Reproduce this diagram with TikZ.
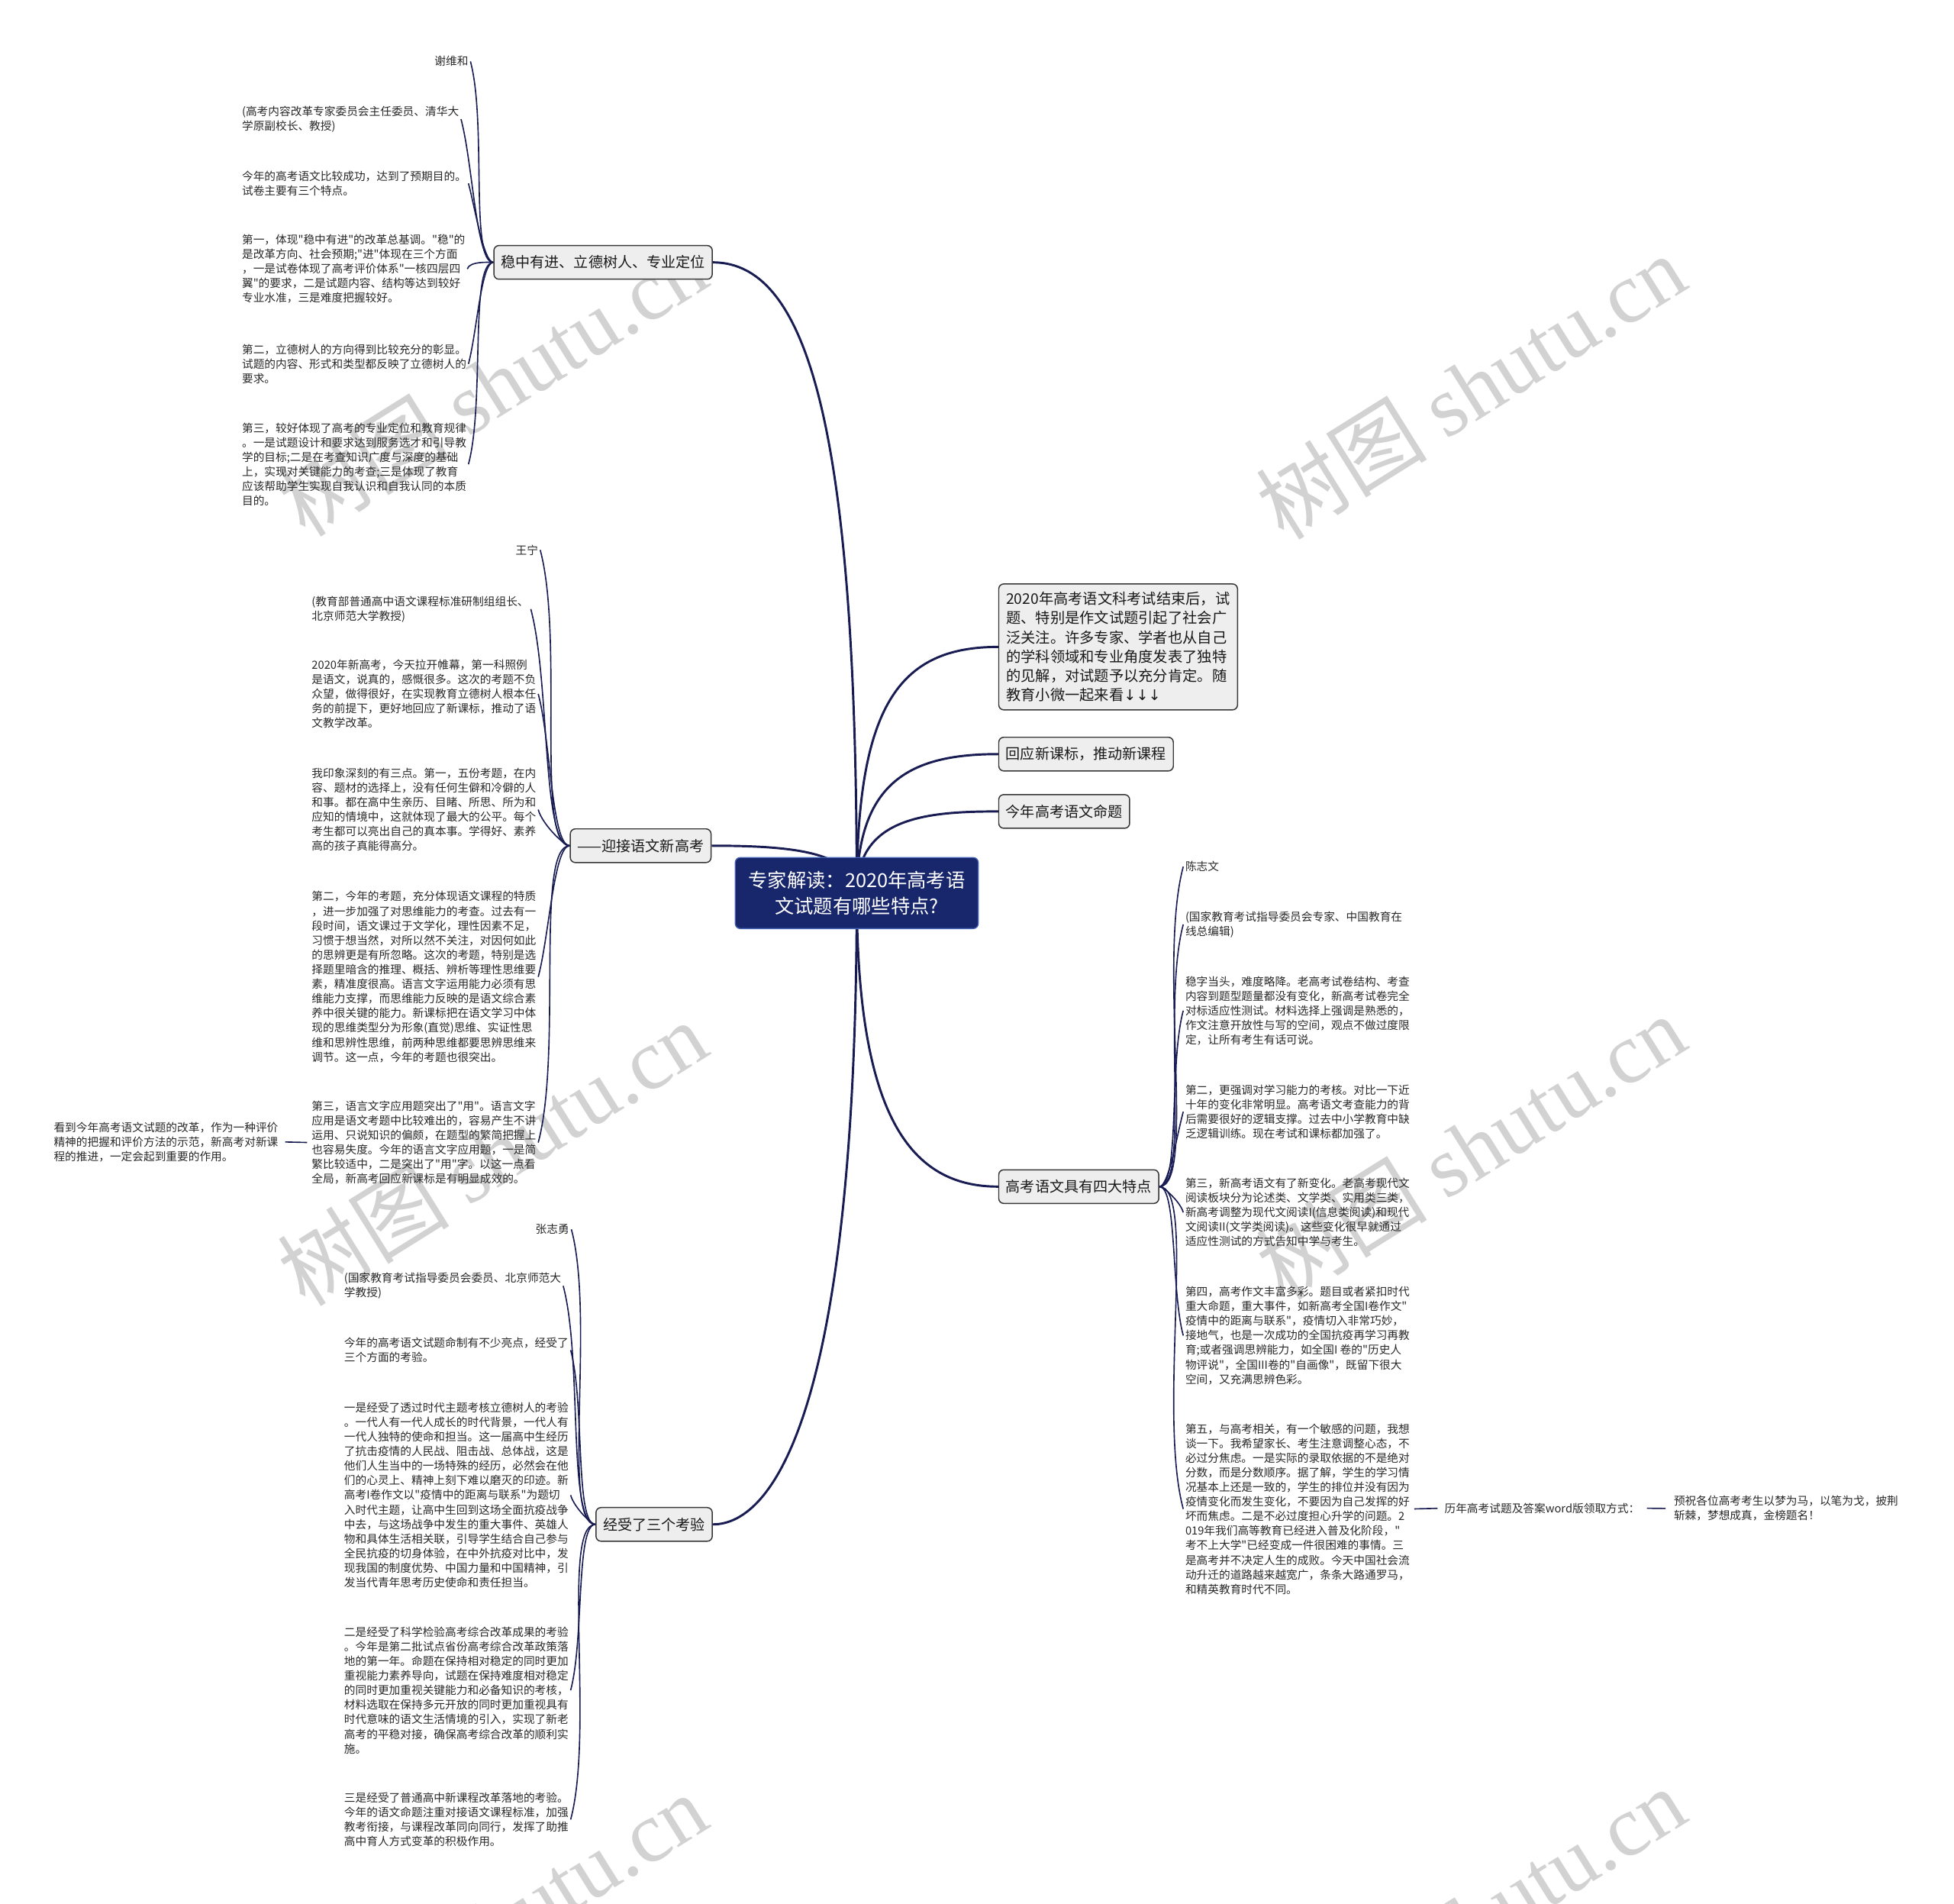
\documentclass[tikz,border=0pt]{standalone}
\usepackage{fontspec}
\newfontfamily\cjk{Noto Sans CJK SC}
\newfontfamily\wmf{Liberation Serif}
\newfontfamily\djv{DejaVu Sans}
\usetikzlibrary{calc}
\pgfdeclarelayer{wmlayer}
\pgfdeclarelayer{bglayer}
\pgfsetlayers{wmlayer,bglayer,main}
\definecolor{navy}{RGB}{24,28,82}
\definecolor{cfill}{RGB}{24,38,108}
\definecolor{cedge}{RGB}{70,100,180}
\definecolor{boxfill}{RGB}{238,238,238}
\definecolor{boxedge}{RGB}{55,55,55}
\definecolor{wmcol}{RGB}{210,210,210}
\definecolor{txt}{RGB}{40,40,40}
\tikzset{
  every node/.style={font=\cjk},
  leaf/.style={font=\cjk\fontsize{9pt}{11.7pt}\selectfont, align=left, inner sep=1.5pt, text=txt},
  topic/.style={draw=boxedge, fill=boxfill, rounded corners=4pt, line width=0.9pt,
     font=\cjk\fontsize{11.7pt}{15.4pt}\selectfont, inner xsep=5.7pt, inner ysep=0pt,
     minimum height=27pt, align=left, text=black!90},
  bigtopic/.style={topic, font=\cjk\fontsize{11.8pt}{15.4pt}\selectfont, inner xsep=6pt, inner ysep=6.5pt},
  root/.style={draw=cedge, fill=cfill, rounded corners=4pt, line width=0.8pt, text=white,
     font=\cjk\fontsize{15.5pt}{21pt}\selectfont, align=center, minimum width=195pt, minimum height=57pt, inner sep=0pt},
  mainln/.style={draw=navy, line width=1.8pt},
  subln/.style={draw=navy, line width=1pt},
  lu/.style={out=180, in=-75, out looseness=0.3, in looseness=0.8},
  ld/.style={out=180, in=75, out looseness=0.3, in looseness=0.8},
  ru/.style={out=0, in=-105, out looseness=0.3, in looseness=0.8},
  rd/.style={out=0, in=105, out looseness=0.3, in looseness=0.8},
  wmk/.style={text=wmcol, font=\cjk\fontsize{69pt}{72pt}\selectfont, rotate=32, inner sep=0pt}
}
\begin{document}
\begin{tikzpicture}[x=1pt, y=-1pt]
\useasboundingbox (0,0) rectangle (1568,1527);

% watermarks
\begin{pgfonlayer}{wmlayer}
\foreach \wx/\wy/\nm in {395/308/wa, 1180/310/wb, 395/925/wc, 1180/920/wd, 395/1545/we, 1180/1540/wf}
  \node[wmk] (\nm) at (\wx,\wy) {树图 {\wmf shutu.cn}};
\end{pgfonlayer}

% root and topics
\node[root] (c) at (687.5,716.5) {专家解读：2020年高考语\\文试题有哪些特点?};
\node[topic, anchor=east] (s1) at (572,210.5) {稳中有进、立德树人、专业定位};
\node[topic, anchor=east] (m0) at (571,678.5) {——迎接语文新高考};
\node[topic, anchor=east] (b0) at (572,1223) {经受了三个考验};
\node[bigtopic, anchor=west] (n1) at (801,519) {2020年高考语文科考试结束后，试\\题、特别是作文试题引起了社会广\\泛关注。许多专家、学者也从自己\\的学科领域和专业角度发表了独特\\的见解，对试题予以充分肯定。随\\教育小微一起来看{\djv ↓↓↓}};
\node[topic, anchor=west] (n2) at (801,605) {回应新课标，推动新课程};
\node[topic, anchor=west] (n3) at (801,651) {今年高考语文命题};
\node[topic, anchor=west] (r0) at (801,952) {高考语文具有四大特点};

% top-left leaves
\node[leaf, anchor=north east] (t1) at (377.5,43.4) {谢维和};
\node[leaf, anchor=north west] (t2) at (192.5,83.4) {(高考内容改革专家委员会主任委员、清华大\\学原副校长、教授)};
\node[leaf, anchor=north west] (t3) at (192.5,135.4) {今年的高考语文比较成功，达到了预期目的。\\试卷主要有三个特点。};
\node[leaf, anchor=north west] (t4) at (192.5,186.4) {第一，体现"稳中有进"的改革总基调。"稳"的\\是改革方向、社会预期;"进"体现在三个方面\\，一是试卷体现了高考评价体系"一核四层四\\翼"的要求，二是试题内容、结构等达到较好\\专业水准，三是难度把握较好。};
\node[leaf, anchor=north west] (t5) at (192.5,274.4) {第二，立德树人的方向得到比较充分的彰显。\\试题的内容、形式和类型都反映了立德树人的\\要求。};
\node[leaf, anchor=north west] (t6) at (192.5,337.4) {第三，较好体现了高考的专业定位和教育规律\\。一是试题设计和要求达到服务选才和引导教\\学的目标;二是在考查知识广度与深度的基础\\上，实现对关键能力的考查;三是体现了教育\\应该帮助学生实现自我认识和自我认同的本质\\目的。};

% middle-left leaves
\node[leaf, anchor=north east] (m1) at (433.5,435.4) {王宁};
\node[leaf, anchor=north west] (m2) at (248.5,476.4) {(教育部普通高中语文课程标准研制组组长、\\北京师范大学教授)};
\node[leaf, anchor=north west] (m3) at (248.5,527.4) {2020年新高考，今天拉开帷幕，第一科照例\\是语文，说真的，感慨很多。这次的考题不负\\众望，做得很好，在实现教育立德树人根本任\\务的前提下，更好地回应了新课标，推动了语\\文教学改革。};
\node[leaf, anchor=north west] (m4) at (248.5,614.4) {我印象深刻的有三点。第一，五份考题，在内\\容、题材的选择上，没有任何生僻和冷僻的人\\和事。都在高中生亲历、目睹、所思、所为和\\应知的情境中，这就体现了最大的公平。每个\\考生都可以亮出自己的真本事。学得好、素养\\高的孩子真能得高分。};
\node[leaf, anchor=north west] (m5) at (248.5,713.4) {第二，今年的考题，充分体现语文课程的特质\\，进一步加强了对思维能力的考查。过去有一\\段时间，语文课过于文学化，理性因素不足，\\习惯于想当然，对所以然不关注，对因何如此\\的思辨更是有所忽略。这次的考题，特别是选\\择题里暗含的推理、概括、辨析等理性思维要\\素，精准度很高。语言文字运用能力必须有思\\维能力支撑，而思维能力反映的是语文综合素\\养中很关键的能力。新课标把在语文学习中体\\现的思维类型分为形象(直觉)思维、实证性思\\维和思辨性思维，前两种思维都要思辨思维来\\调节。这一点，今年的考题也很突出。};
\node[leaf, anchor=north west] (m6) at (248.5,881.4) {第三，语言文字应用题突出了"用"。语言文字\\应用是语文考题中比较难出的，容易产生不讲\\运用、只说知识的偏颇，在题型的繁简把握上\\也容易失度。今年的语言文字应用题，一是简\\繁比较适中，二是突出了"用"字。以这一点看\\全局，新高考回应新课标是有明显成效的。};
\node[leaf, anchor=north west] (m7) at (41.5,898.4) {看到今年高考语文试题的改革，作为一种评价\\精神的把握和评价方法的示范，新高考对新课\\程的推进，一定会起到重要的作用。};

% bottom-left leaves
\node[leaf, anchor=north east] (b1) at (458.5,980.4) {张志勇};
\node[leaf, anchor=north west] (b2) at (274.5,1019.4) {(国家教育考试指导委员会委员、北京师范大\\学教授)};
\node[leaf, anchor=north west] (b3) at (274.5,1071.4) {今年的高考语文试题命制有不少亮点，经受了\\三个方面的考验。};
\node[leaf, anchor=north west] (b4) at (274.5,1123.4) {一是经受了透过时代主题考核立德树人的考验\\。一代人有一代人成长的时代背景，一代人有\\一代人独特的使命和担当。这一届高中生经历\\了抗击疫情的人民战、阻击战、总体战，这是\\他们人生当中的一场特殊的经历，必然会在他\\们的心灵上、精神上刻下难以磨灭的印迹。新\\高考I卷作文以"疫情中的距离与联系"为题切\\入时代主题，让高中生回到这场全面抗疫战争\\中去，与这场战争中发生的重大事件、英雄人\\物和具体生活相关联，引导学生结合自己参与\\全民抗疫的切身体验，在中外抗疫对比中，发\\现我国的制度优势、中国力量和中国精神，引\\发当代青年思考历史使命和责任担当。};
\node[leaf, anchor=north west] (b5) at (274.5,1303.4) {二是经受了科学检验高考综合改革成果的考验\\。今年是第二批试点省份高考综合改革政策落\\地的第一年。命题在保持相对稳定的同时更加\\重视能力素养导向，试题在保持难度相对稳定\\的同时更加重视关键能力和必备知识的考核，\\材料选取在保持多元开放的同时更加重视具有\\时代意味的语文生活情境的引入，实现了新老\\高考的平稳对接，确保高考综合改革的顺利实\\施。};
\node[leaf, anchor=north west] (b6) at (274.5,1436.4) {三是经受了普通高中新课程改革落地的考验。\\今年的语文命题注重对接语文课程标准，加强\\教考衔接，与课程改革同向同行，发挥了助推\\高中育人方式变革的积极作用。};

% right leaves
\node[leaf, anchor=north west] (r1) at (949.5,689.4) {陈志文};
\node[leaf, anchor=north west] (r2) at (949.5,729.4) {(国家教育考试指导委员会专家、中国教育在\\线总编辑)};
\node[leaf, anchor=north west] (r3) at (949.5,781.4) {稳字当头，难度略降。老高考试卷结构、考查\\内容到题型题量都没有变化，新高考试卷完全\\对标适应性测试。材料选择上强调是熟悉的，\\作文注意开放性与写的空间，观点不做过度限\\定，让所有考生有话可说。};
\node[leaf, anchor=north west] (r4) at (949.5,868.4) {第二，更强调对学习能力的考核。对比一下近\\十年的变化非常明显。高考语文考查能力的背\\后需要很好的逻辑支撑。过去中小学教育中缺\\乏逻辑训练。现在考试和课标都加强了。};
\node[leaf, anchor=north west] (r5) at (949.5,943.4) {第三，新高考语文有了新变化。老高考现代文\\阅读板块分为论述类、文学类、实用类三类，\\新高考调整为现代文阅读I(信息类阅读)和现代\\文阅读II(文学类阅读)。这些变化很早就通过\\适应性测试的方式告知中学与考生。};
\node[leaf, anchor=north west] (r6) at (949.5,1030.4) {第四，高考作文丰富多彩。题目或者紧扣时代\\重大命题，重大事件，如新高考全国I卷作文"\\疫情中的距离与联系"，疫情切入非常巧妙，\\接地气，也是一次成功的全国抗疫再学习再教\\育;或者强调思辨能力，如全国I 卷的"历史人\\物评说"，全国III卷的"自画像"，既留下很大\\空间，又充满思辨色彩。};
\node[leaf, anchor=north west] (r7) at (949.5,1140.4) {第五，与高考相关，有一个敏感的问题，我想\\谈一下。我希望家长、考生注意调整心态，不\\必过分焦虑。一是实际的录取依据的不是绝对\\分数，而是分数顺序。据了解，学生的学习情\\况基本上还是一致的，学生的排位并没有因为\\疫情变化而发生变化，不要因为自己发挥的好\\坏而焦虑。二是不必过度担心升学的问题。2\\019年我们高等教育已经进入普及化阶段，"\\考不上大学"已经变成一件很困难的事情。三\\是高考并不决定人生的成败。今天中国社会流\\动升迁的道路越来越宽广，条条大路通罗马，\\和精英教育时代不同。};
\node[leaf, anchor=west] (r8) at (1157.5,1210) {历年高考试题及答案word版领取方式：};
\node[leaf, anchor=north west] (r9) at (1341.5,1198.4) {预祝各位高考考生以梦为马，以笔为戈，披荆\\斩棘，梦想成真，金榜题名！};

% connectors
\begin{pgfonlayer}{bglayer}
\draw[mainln] (c.center) .. controls +(0,-366) and +(78,0) .. (s1.east);
\draw[mainln] (c.center) .. controls +(-3,-32) and +(70,0) .. (m0.east);
\draw[mainln] (c.center) .. controls +(0,-150) and +(-80,0) .. (n1.west);
\draw[mainln] (c.center) .. controls +(0,-90) and +(-70,0) .. (n2.west);
\draw[mainln] (c.center) .. controls +(0,-60) and +(-60,0) .. (n3.west);
\draw[mainln] (c.center) .. controls +(0,410) and +(50,0) .. (b0.east);
\draw[mainln] (c.center) .. controls +(0,180) and +(-70,0) .. (r0.west);

\foreach \l in {t1,t2,t3} \draw[subln] (s1.west) to[lu] (\l.east);
\foreach \l in {t4,t5,t6} \draw[subln] (s1.west) to[ld] (\l.east);
\foreach \l in {m1,m2,m3,m4} \draw[subln] (m0.west) to[lu] (\l.east);
\foreach \l in {m5,m6} \draw[subln] (m0.west) to[ld] (\l.east);
\foreach \l in {b1,b2,b3,b4} \draw[subln] (b0.west) to[lu] (\l.east);
\foreach \l in {b5,b6} \draw[subln] (b0.west) to[ld] (\l.east);
\foreach \l in {r1,r2,r3,r4} \draw[subln] (r0.east) to[ru] (\l.west);
\foreach \l in {r5,r6,r7} \draw[subln] (r0.east) to[rd] (\l.west);
\draw[subln, shorten <=2pt, shorten >=4pt] (m6.west) -- (m7.east);
\draw[subln, shorten <=2pt, shorten >=4pt] (r7.east) -- (r8.west);
\draw[subln, shorten <=4pt, shorten >=5pt] (r8.east) -- (r9.west);
\end{pgfonlayer}
\end{tikzpicture}
\end{document}
